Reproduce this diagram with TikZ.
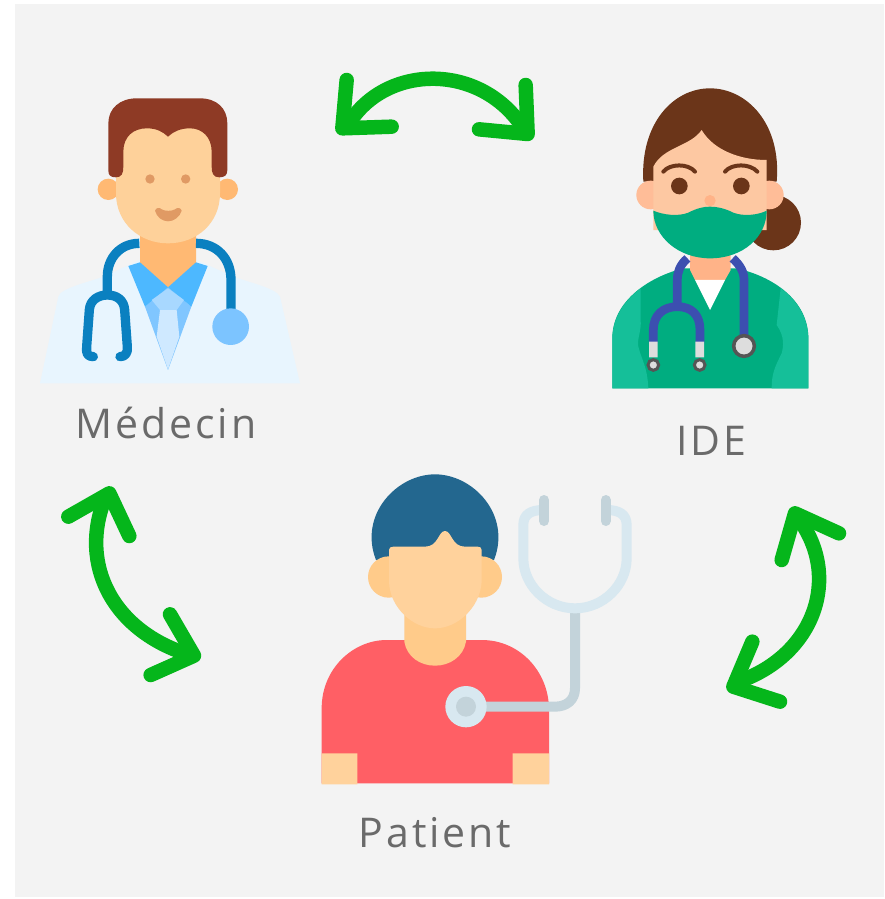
\documentclass[tikz,border=0pt]{standalone}
\usepackage{fontspec}
\setmainfont[LetterSpace=7]{Open Sans}
\begin{document}
\begin{tikzpicture}[x=1pt,y=-1pt,
  zoomed/.style={x=0.33333pt,y=-0.33333pt},
  labeltext/.style={anchor=base,inner sep=0pt,text=lbl,font=\fontsize{41}{48}\selectfont},
  greenline/.style={draw=arrowgreen,line width=14.5pt,line cap=round,line join=round},
  tube/.style={line width=#1,line cap=round,line join=round}]
\definecolor{bg}{HTML}{F3F3F3}\definecolor{lbl}{HTML}{6A6A6A}\definecolor{arrowgreen}{HTML}{05B61B}
\definecolor{coat}{HTML}{E8F5FE}\definecolor{neckd}{HTML}{FFB973}\definecolor{faced}{HTML}{FED19A}
\definecolor{haird}{HTML}{8E3A25}\definecolor{collar}{HTML}{4DB8FF}\definecolor{shirtd}{HTML}{80C6FF}
\definecolor{knot}{HTML}{A8D8FF}\definecolor{tied}{HTML}{CFE9FF}\definecolor{stethd}{HTML}{0A80C0}
\definecolor{discd}{HTML}{7CC4FF}\definecolor{featd}{HTML}{E09A64}
\definecolor{hairn}{HTML}{6B3519}\definecolor{facen}{HTML}{FDC8A2}\definecolor{earn}{HTML}{FFBD98}
\definecolor{neckn}{HTML}{FFB388}\definecolor{maskn}{HTML}{00AD80}\definecolor{siden}{HTML}{15BF99}
\definecolor{stethn}{HTML}{3C4FB0}\definecolor{tipn}{HTML}{DDDDDD}\definecolor{ringn}{HTML}{555555}
\definecolor{hairp}{HTML}{23678F}\definecolor{facep}{HTML}{FFD29C}\definecolor{earp}{HTML}{FFCB8A}
\definecolor{shirtp}{HTML}{FF5F65}\definecolor{tubep}{HTML}{C3D3DA}\definecolor{lightp}{HTML}{D8E8F0}
\useasboundingbox (0,0) rectangle (884,899);
\fill[white] (0,0) rectangle (884,899);
\fill[bg] (15,4) rectangle (884,897);

% Doctor
\begin{scope}[xshift=30pt,yshift=-80pt,zoomed]
\fill[coat] (30,910) -- (85,650) .. controls (90,625) and (180,605) .. (220,590) -- (330,540) -- (500,540) -- (610,590) .. controls (650,605) and (740,625) .. (750,650) -- (810,910) -- cycle;
\fill[neckd] (235,328) circle[radius=32] (592,328) circle[radius=32];
\fill[neckd] (330,440) -- (498,440) -- (498,560) -- (414,622) -- (330,560) -- cycle;
\fill[shirtd] (345,680) -- (414,622) -- (484,680) -- (414,870) -- cycle;
\fill[collar] (295,558) -- (330,547) -- (414,622) -- (345,680) -- cycle;
\fill[collar] (533,558) -- (498,547) -- (414,622) -- (484,680) -- cycle;
\fill[tied] (390,690) -- (440,690) -- (448,770) -- (414,868) -- (380,770) -- cycle;
\fill[knot] (365,660) -- (414,625) -- (462,660) -- (440,690) -- (390,690) -- cycle;
\draw[stethd,tube=9.3pt,line cap=butt] (328,490) .. controls (270,490) and (232,535) .. (232,590) -- (232,640);
\draw[stethd,tube=9.3pt,line cap=butt] (498,490) .. controls (560,490) and (603,535) .. (603,600) -- (603,700);
\draw[stethd,tube=9.3pt] (190,830) .. controls (172,830) and (168,820) .. (170,800) -- (178,690) .. controls (180,660) and (205,645) .. (232,645) .. controls (260,645) and (282,660) .. (284,690) -- (292,800) .. controls (294,820) and (285,830) .. (270,830);
\fill[discd] (602,740) circle[radius=55];
\fill[faced] (258,200) .. controls (258,160) and (290,140) .. (330,140) -- (500,140) .. controls (540,140) and (570,160) .. (570,200) -- (570,340) .. controls (570,430) and (500,490) .. (414,490) .. controls (330,490) and (258,430) .. (258,340) -- cycle;
\fill[haird] (258,292) .. controls (240,292) and (235,285) .. (235,270) -- (235,130) .. controls (235,85) and (270,55) .. (320,55) -- (510,55) .. controls (560,55) and (592,85) .. (592,130) -- (592,270) .. controls (592,285) and (585,292) .. (568,292) .. controls (550,292) and (545,280) .. (545,260) -- (545,215) .. controls (545,170) and (515,145) .. (480,145) .. controls (450,145) and (430,155) .. (414,170) .. controls (398,155) and (380,145) .. (350,145) .. controls (310,145) and (280,170) .. (280,215) -- (280,260) .. controls (280,280) and (275,292) .. (258,292) -- cycle;
\fill[featd] (360,297) circle[radius=14] (467,297) circle[radius=14];
\fill[featd] (375,392) .. controls (378,382) and (390,382) .. (395,388) .. controls (405,394) and (425,394) .. (435,388) .. controls (442,382) and (452,382) .. (455,392) .. controls (450,412) and (430,424) .. (414,424) .. controls (398,424) and (380,412) .. (375,392) -- cycle;
\end{scope}

% Nurse
\begin{scope}[xshift=600pt,yshift=-80pt,zoomed]
\fill[hairn] (520,428) circle[radius=83];
\fill[hairn] (130,305) .. controls (120,130) and (220,25) .. (330,25) .. controls (440,25) and (545,130) .. (530,305) -- cycle;
\fill[earn] (152,345) circle[radius=43] (508,345) circle[radius=43];
\fill[facen] (160,450) -- (160,260) .. controls (190,200) and (270,200) .. (305,150) .. controls (340,210) and (420,240) .. (500,240) -- (500,450) -- cycle;
\fill[hairn] (238,318) circle[radius=25] (424,318) circle[radius=25];
\draw[hairn,tube=4pt] (190,275) .. controls (210,250) and (265,250) .. (285,275);
\draw[hairn,tube=4pt] (375,275) .. controls (395,250) and (450,250) .. (472,275);
\fill[neckn] (330,362) circle[radius=17];
\fill[maskn] (37,925) -- (37,770) .. controls (40,660) and (150,590) .. (250,565) -- (410,565) .. controls (520,590) and (622,660) .. (625,770) -- (625,925) -- cycle;
\fill[siden] (37,925) -- (37,770) .. controls (40,710) and (75,660) .. (122,625) -- (122,720) .. controls (125,750) and (110,780) .. (115,800) .. controls (125,840) and (142,860) .. (145,925) -- cycle;
\fill[siden] (625,925) -- (625,770) .. controls (622,710) and (590,660) .. (542,625) -- (530,735) .. controls (555,770) and (550,800) .. (545,820) .. controls (525,860) and (515,880) .. (515,925) -- cycle;
\fill[neckn] (270,480) -- (392,480) -- (392,570) -- (375,600) -- (285,600) -- (270,570) -- cycle;
\fill[white] (285,600) -- (375,600) -- (330,690) -- cycle;
\fill[maskn] (160,392) .. controls (190,405) and (235,410) .. (265,398) .. controls (290,385) and (310,380) .. (330,380) .. controls (350,380) and (375,385) .. (400,398) .. controls (430,410) and (475,405) .. (500,392) .. controls (500,470) and (430,535) .. (330,535) .. controls (235,535) and (160,470) .. (160,392) -- cycle;
\draw[stethn,tube=8.7pt,line cap=butt] (262,535) .. controls (240,555) and (232,575) .. (232,600) -- (232,675);
\draw[stethn,tube=8.7pt,line cap=butt] (398,535) .. controls (420,555) and (432,575) .. (432,600) -- (432,775);
\draw[stethn,tube=8.7pt,line cap=butt] (160,790) -- (160,750) .. controls (160,705) and (190,680) .. (232,680) .. controls (275,680) and (300,705) .. (300,750) -- (300,790);
\fill[tipn] (147,785) rectangle (173,832) (286,785) rectangle (312,832);
\filldraw[fill=tipn,draw=ringn,line width=3pt] (160,855) circle[radius=16] (299,855) circle[radius=16];
\filldraw[fill=tipn,draw=ringn,line width=3.5pt] (432,798) circle[radius=31];
\end{scope}

% Patient
\begin{scope}[xshift=310pt,yshift=-465pt,zoomed]
\fill[hairp] (198,285) .. controls (145,150) and (260,28) .. (375,28) .. controls (490,28) and (605,150) .. (552,285) -- cycle;
\fill[earp] (236,336) ellipse[x radius=62,y radius=62] (514,336) ellipse[x radius=62,y radius=62];
\fill[shirtp] (35,955) -- (35,730) .. controls (35,610) and (130,525) .. (230,525) -- (515,525) .. controls (630,525) and (715,620) .. (717,730) -- (717,955) -- cycle;
\fill[earp] (283,440) -- (468,440) -- (468,530) .. controls (460,575) and (420,602) .. (375,602) .. controls (330,602) and (290,575) .. (283,530) -- cycle;
\fill[facep] (35,865) rectangle (142,958) (608,865) rectangle (717,958);
\fill[facep] (237,255) .. controls (237,248) and (242,245) .. (250,245) -- (345,245) .. controls (385,245) and (385,198) .. (405,198) .. controls (425,198) and (425,245) .. (465,245) -- (503,245) .. controls (510,245) and (515,248) .. (515,255) -- (515,350) .. controls (510,430) and (440,490) .. (375,490) .. controls (310,490) and (240,430) .. (237,350) -- cycle;
\draw[tubep,tube=10pt,line cap=butt] (795,440) -- (795,670) .. controls (795,705) and (770,725) .. (735,725) -- (520,725);
\draw[lightp,tube=10pt,line cap=butt] (700,135) .. controls (660,135) and (640,150) .. (640,180) -- (640,280) .. controls (640,360) and (710,430) .. (795,430) .. controls (880,430) and (950,360) .. (950,280) -- (950,180) .. controls (950,150) and (930,135) .. (890,135);
\draw[tubep,tube=10pt] (702,105) -- (702,168);
\draw[tubep,tube=10pt] (887,105) -- (887,168);
\fill[lightp] (468,725) circle[radius=62];
\fill[tubep] (468,725) circle[radius=30];
\end{scope}

% Green double arrows
\begin{scope}[xshift=325pt,yshift=-60pt,zoomed]
\draw[greenline] (75,185) .. controls (190,10) and (470,10) .. (595,205);
\draw[greenline] (65,60) -- (52,205) -- (200,200);
\draw[greenline] (602,75) -- (608,222) -- (462,208);
\end{scope}
\begin{scope}[xshift=50pt,yshift=-475pt,zoomed]
\draw[greenline] (165,70) .. controls (85,270) and (190,470) .. (420,540);
\draw[greenline] (55,125) -- (178,55) -- (238,183);
\draw[greenline] (360,418) -- (432,542) -- (302,600);
\end{scope}
\begin{scope}[xshift=715pt,yshift=-495pt,zoomed]
\draw[greenline] (250,70) .. controls (380,245) and (300,480) .. (70,560);
\draw[greenline] (200,195) -- (240,55) -- (372,115);
\draw[greenline] (112,440) -- (55,575) -- (195,620);
\end{scope}

\node[labeltext] (medecin) at (166,438) {Médecin};
\node[labeltext] (ide) at (711,455) {IDE};
\node[labeltext] (patient) at (435,847) {Patient};
\end{tikzpicture}
\end{document}
